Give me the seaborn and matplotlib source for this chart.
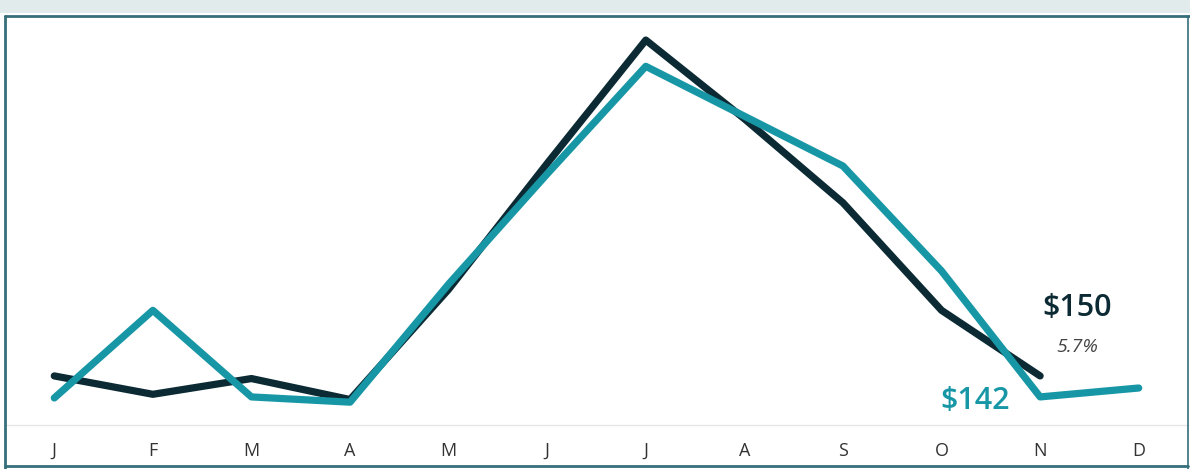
import matplotlib
matplotlib.use("Agg")
import matplotlib.pyplot as plt
import seaborn as sns
import pandas as pd
import numpy as np
from matplotlib.patches import Rectangle
from matplotlib.lines import Line2D

months = ["J", "F", "M", "A", "M", "J", "J", "A", "S", "O", "N", "D"]
current_year = [150, 143, 149, 141, 183, 231, 278, 248, 216, 175, 150, np.nan]
prior_year = [141.6, 175, 142, 140, 185, 227, 268, 249, 230, 190, 142, 145.4]
current_label = "$150"
change_label = "5.7%"
prior_label = "$142"

dark = "#0c2a34"
teal = "#1797a5"
frame = "#356f7a"

sns.set_theme(style="white")
plt.rcParams["font.family"] = ["Open Sans", "DejaVu Sans"]

df = pd.DataFrame({
    "idx": list(range(len(months))) * 2,
    "value": prior_year + current_year,
    "series": ["prior"] * len(months) + ["current"] * len(months),
})

fig = plt.figure(figsize=(11.9, 4.69), dpi=100)
W, H = 1190, 469
ax = fig.add_axes([5 / W, 1 - 425 / H, (1188 - 5) / W, (425 - 17) / H])

sns.lineplot(data=df, x="idx", y="value", hue="series",
             palette={"prior": teal, "current": dark},
             hue_order=["current", "prior"],
             linewidth=5.2, ax=ax, legend=False, sort=False,
             solid_capstyle="round", solid_joinstyle="round")
for ln in ax.lines:
    if ln.get_color() == teal:
        ln.set_zorder(3)
    else:
        ln.set_zorder(2)

ax.set_xlim(-0.5, 11.5)
ax.set_ylim(131.3, 286.8)
ax.set_xticks(range(len(months)))
ax.set_xticklabels(months, fontsize=13, color="#333333")
ax.set_xticks(np.arange(0.5, 11.5, 1), minor=True)
ax.tick_params(axis="x", which="major", length=0, pad=12)
ax.tick_params(axis="x", which="minor", length=6, width=1, color="#e2e2e2", direction="out")
ax.set_yticks([])
ax.set_xlabel("")
ax.set_ylabel("")
for s in ["top", "left", "right"]:
    ax.spines[s].set_visible(False)
ax.spines["bottom"].set_color("#e6e6e6")
ax.spines["bottom"].set_linewidth(1)

last = 10
ax.annotate(current_label, xy=(last, current_year[last]), xytext=(27, 49),
            textcoords="offset points", ha="center", va="center",
            fontsize=22, fontweight="semibold", color=dark)
ax.annotate(change_label, xy=(last, current_year[last]), xytext=(27, 21),
            textcoords="offset points", ha="center", va="center",
            fontsize=14, fontstyle="italic", color="#444444")
ax.annotate(prior_label, xy=(last, prior_year[last]), xytext=(-47, -3),
            textcoords="offset points", ha="center", va="center",
            fontsize=22, fontweight="semibold", color=teal)

fig.patches.append(Rectangle((0, 1 - 13 / H), 1, 13 / H, transform=fig.transFigure,
                             facecolor="#e2ebec", edgecolor="none", zorder=0))
fig.add_artist(Line2D([5 / W, 1], [1 - 16 / H, 1 - 16 / H], transform=fig.transFigure,
                      color=frame, linewidth=2))
fig.add_artist(Line2D([5 / W, 5 / W], [0, 1 - 16 / H], transform=fig.transFigure,
                      color=frame, linewidth=2))
fig.add_artist(Line2D([1188 / W, 1188 / W], [0, 1 - 16 / H], transform=fig.transFigure,
                      color=frame, linewidth=1.2))
fig.add_artist(Line2D([5 / W, 1188 / W], [1 - 466 / H, 1 - 466 / H], transform=fig.transFigure,
                      color=frame, linewidth=2))

fig.savefig("out.png", dpi=100)
